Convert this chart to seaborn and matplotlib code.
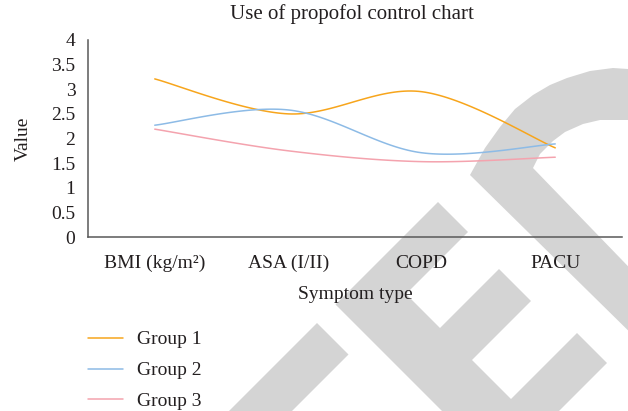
import numpy as np
import pandas as pd
import matplotlib
matplotlib.use('Agg')
import matplotlib.pyplot as plt
import seaborn as sns
from matplotlib.patches import Polygon
from matplotlib.lines import Line2D
from matplotlib.ticker import FuncFormatter

# 数据
categories = ['BMI (kg/m²)', 'ASA (I/II)', 'COPD', 'PACU']
group_names = ['Group 1', 'Group 2', 'Group 3']
group1 = [3.21, 2.50, 2.95, 1.81]
group2 = [2.27, 2.58, 1.71, 1.89]
group3 = [2.19, 1.75, 1.53, 1.62]
y_ticks = [0, 0.5, 1, 1.5, 2, 2.5, 3, 3.5, 4]

colors = ['#F7A51C', '#8DBBE6', '#F4A3AE']
text_color = '#231F20'
axis_color = '#595959'

sns.set_theme(style='white')
plt.rcParams['font.family'] = ['Liberation Serif', 'DejaVu Serif']
plt.rcParams['text.color'] = text_color
plt.rcParams['axes.labelcolor'] = text_color
plt.rcParams['xtick.color'] = text_color
plt.rcParams['ytick.color'] = text_color

W, H = 628, 411
FS = 14


def excel_smooth(values, n=40):
    """Excel 风格的平滑折线 (三次贝塞尔, 张力 1/6)"""
    pts = np.column_stack([np.arange(len(values)), values]).astype(float)
    last = len(pts) - 1
    out = []
    t = np.linspace(0, 1, n)[:, None]
    for i in range(last):
        p0, p1 = pts[max(i - 1, 0)], pts[i]
        p2, p3 = pts[i + 1], pts[min(i + 2, last)]
        c1 = p1 + (p2 - p0) / 6
        c2 = p2 - (p3 - p1) / 6
        seg = (1 - t) ** 3 * p1 + 3 * (1 - t) ** 2 * t * c1 + 3 * (1 - t) * t ** 2 * c2 + t ** 3 * p2
        out.append(seg if i == 0 else seg[1:])
    return np.vstack(out)


frames = []
for name, vals in zip(group_names, [group1, group2, group3]):
    curve = excel_smooth(vals)
    frames.append(pd.DataFrame({'x': curve[:, 0], 'value': curve[:, 1], 'group': name}))
df = pd.concat(frames, ignore_index=True)

fig = plt.figure(figsize=(W / 100, H / 100), dpi=100)
fig.patch.set_facecolor('white')

# 背景水印 (像素坐标)
wm_shapes = [
    [(335.5, 304.5), (438, 202), (468, 232), (406, 294), (440, 328), (499, 269), (531, 301),
     (472, 360), (511, 399), (577, 333), (607, 363), (500.5, 469.5)],
    [(317, 323), (348.5, 354.5), (201.5, 501.5), (170, 470)],
    [(470, 175), (485, 148), (500, 127), (515, 109), (533, 95), (550, 85), (567, 78), (590, 71),
     (613, 68), (628, 69), (660, 74), (660, 125), (628, 120), (600, 120), (583, 124), (565, 132),
     (553, 141), (540, 154), (533, 168), (680, 320), (649, 351)],
]
for shape in wm_shapes:
    xy = [(px / W, 1 - py / H) for px, py in shape]
    fig.add_artist(Polygon(xy, closed=True, transform=fig.transFigure,
                           facecolor='#D4D4D4', edgecolor='none', zorder=-5))

ax = fig.add_axes([88 / W, 1 - 237 / H, 534 / W, 197 / H])
ax.set_facecolor('none')

sns.lineplot(data=df, x='x', y='value', hue='group', palette=colors,
             sort=False, estimator=None, linewidth=1.1, legend=False, ax=ax)

ax.set_xlim(-0.5, len(categories) - 0.5)
ax.set_ylim(0, 4)
ax.set_xticks(range(len(categories)))
ax.set_xticklabels(categories)
ax.set_xticks(np.arange(-0.5, len(categories), 1), minor=True)
ax.set_yticks(y_ticks)
ax.yaxis.set_major_formatter(FuncFormatter(lambda v, _: f'{v:g}'))
ax.tick_params(axis='x', which='major', length=0, pad=13, labelsize=FS)
ax.tick_params(axis='x', which='minor', length=4, width=1, color=axis_color, direction='out')
ax.tick_params(axis='y', length=0, pad=9, labelsize=FS)

for side in ['top', 'right']:
    ax.spines[side].set_visible(False)
for side in ['left', 'bottom']:
    ax.spines[side].set_color(axis_color)
    ax.spines[side].set_linewidth(1.1)

ax.set_xlabel('Symptom type', fontsize=FS, va='center')
ax.xaxis.set_label_coords(0.5, (237 - 294) / 197)
ax.set_ylabel('Value', fontsize=FS, va='center', ha='center')
ax.yaxis.set_label_coords((23 - 88) / 534, 0.5)

fig.text(352 / W, 1 - 14 / H, 'Use of propofol control chart', ha='center', va='center', fontsize=15)

handles = [Line2D([], [], color=c, linewidth=1.1) for c in colors]
fig.legend(handles, group_names, loc='center left', bbox_to_anchor=(88 / W, 1 - 370.5 / H),
           frameon=False, fontsize=FS, handlelength=1.8, handletextpad=0.72,
           labelspacing=0.68, borderpad=0, borderaxespad=0)

fig.savefig('out.png', dpi=100)
